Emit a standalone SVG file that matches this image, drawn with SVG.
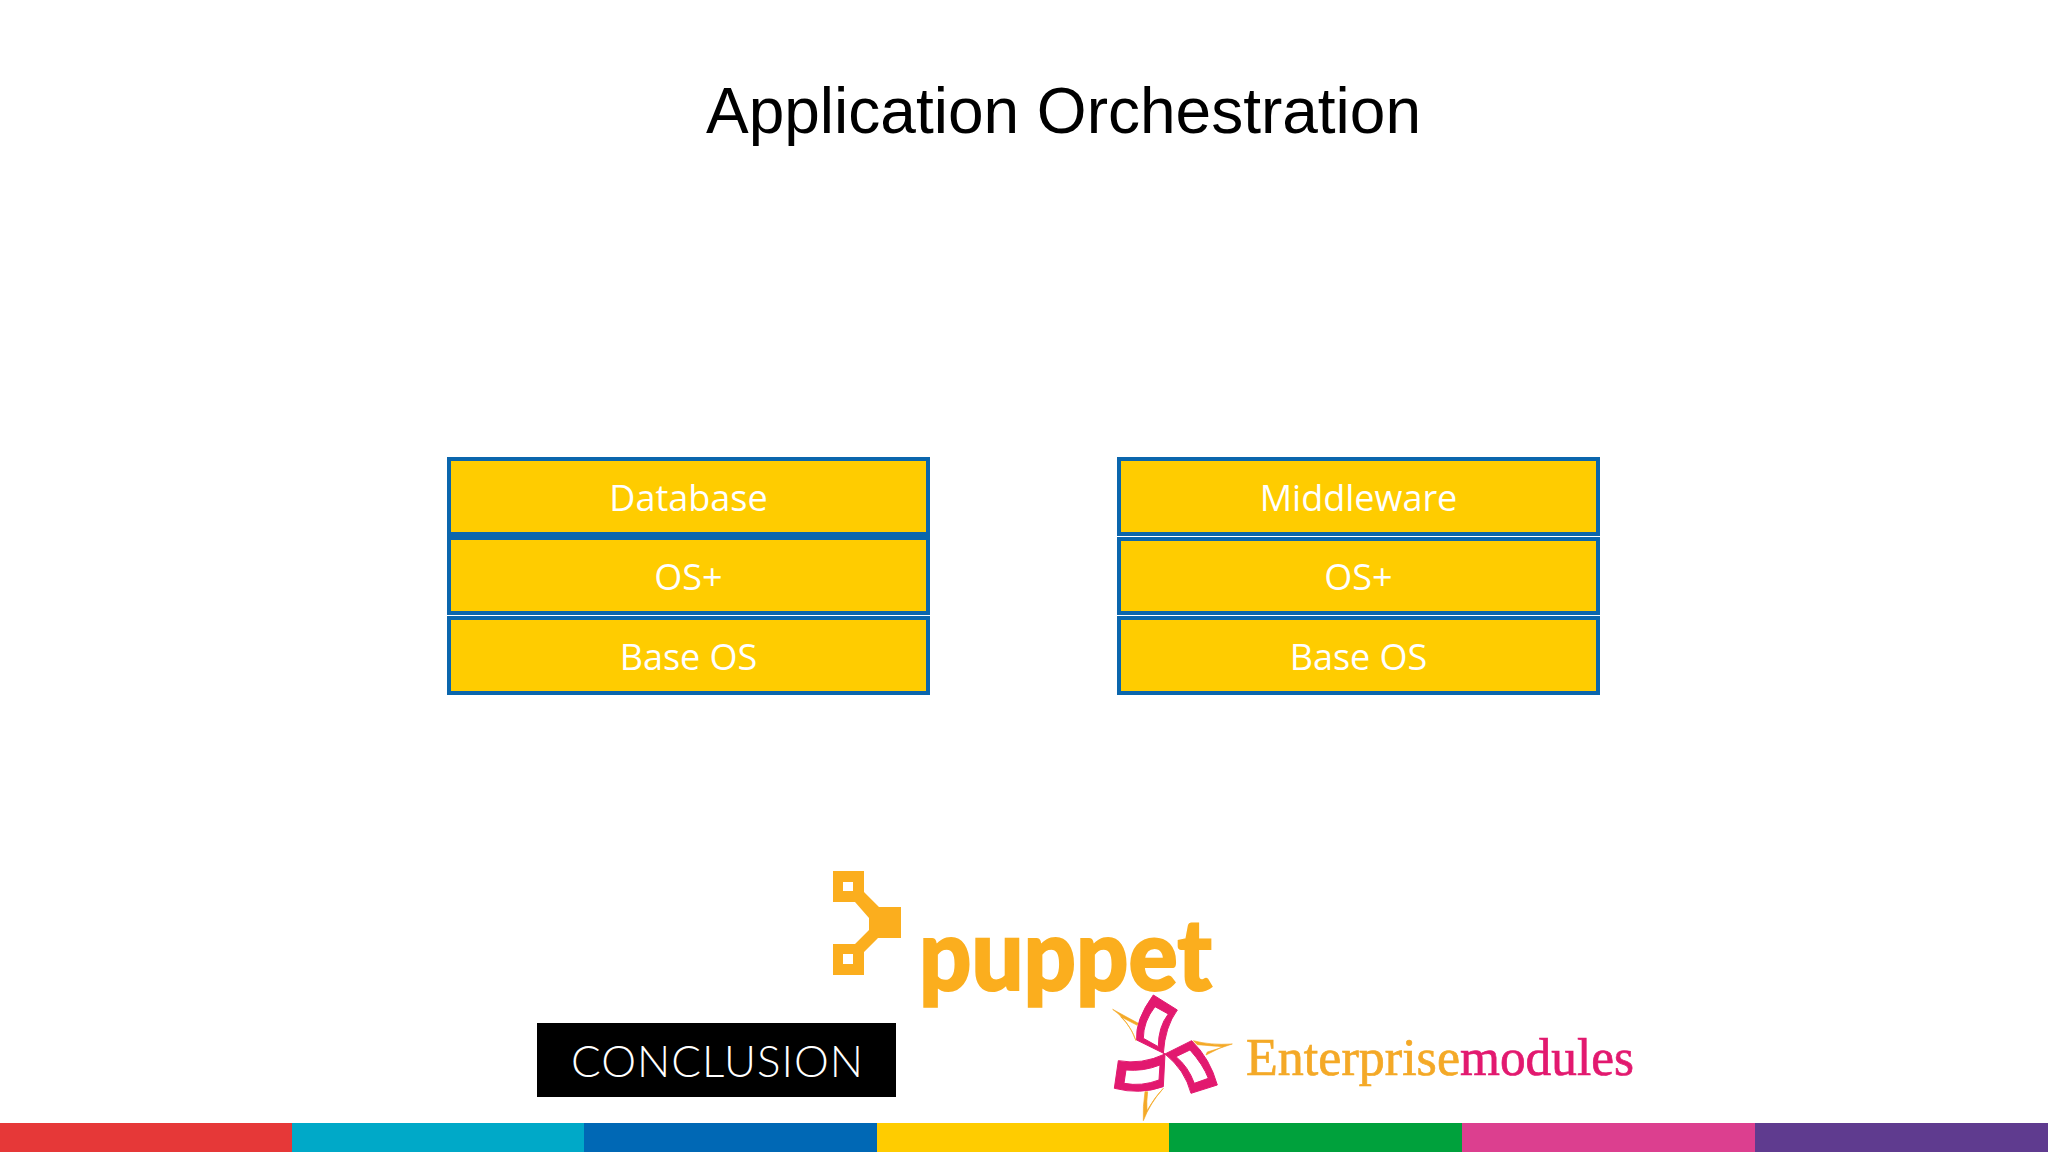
<svg xmlns="http://www.w3.org/2000/svg" width="2048" height="1152" viewBox="0 0 2048 1152">
<style>
.box{fill:#ffcc00;stroke:#0b66ad;stroke-width:4}
.lbl{font-family:"Open Sans","DejaVu Sans",sans-serif;font-size:36px;fill:#fff;text-anchor:middle}
.or{fill:#fbae1e}
.or2{fill:#f4a927;stroke:#f4a927;stroke-width:2}
.pk{fill:#e2196f}
.bl{stroke:#e2196f;stroke-width:3}
.em{font-family:"Liberation Serif",serif;font-size:52px;stroke-width:.7px}
</style>
<rect width="2048" height="1152" fill="#fff"/>
<text x="1063.5" y="133" font-family="'Liberation Sans',Arial,sans-serif" font-size="64" fill="#000" text-anchor="middle">Application Orchestration</text>
<g id="db"><rect class="box" x="449" y="459" width="479" height="75"/><text class="lbl" x="688.5" y="511">Database</text></g>
<g id="os1"><rect class="box" x="449" y="538" width="479" height="75"/><text class="lbl" x="688.5" y="590">OS+</text></g>
<g id="base1"><rect class="box" x="449" y="618" width="479" height="75"/><text class="lbl" x="688.5" y="670">Base OS</text></g>
<g id="mw"><rect class="box" x="1119" y="459" width="479" height="75"/><text class="lbl" x="1358.5" y="511">Middleware</text></g>
<g id="os2"><rect class="box" x="1119" y="539" width="479" height="74"/><text class="lbl" x="1358.5" y="590">OS+</text></g>
<g id="base2"><rect class="box" x="1119" y="618" width="479" height="75"/><text class="lbl" x="1358.5" y="670">Base OS</text></g>
<g id="bars">
<rect x="0" y="1123" width="292" height="29" fill="#e63838"/>
<rect x="292" y="1123" width="292" height="29" fill="#00a9c8"/>
<rect x="584" y="1123" width="293" height="29" fill="#0068b5"/>
<rect x="877" y="1123" width="292" height="29" fill="#ffcc00"/>
<rect x="1169" y="1123" width="293" height="29" fill="#00a13c"/>
<rect x="1462" y="1123" width="293" height="29" fill="#dc3f8f"/>
<rect x="1755" y="1123" width="293" height="29" fill="#5f3b8f"/>
</g>
<g id="puppet">
<path class="or" fill-rule="evenodd" d="M833 871H864V892L879 907H901V938H878L864 952V975H833V944H855L869 930V918L855 902H833ZM843 882V891H853V882ZM843 954V964H853V954Z"/>
<text x="919" y="990" font-family="Lato,'Open Sans',sans-serif" font-weight="900" font-size="100" class="or" stroke="#fbae1e" stroke-width="2" textLength="293" lengthAdjust="spacingAndGlyphs">puppet</text>
</g>
<g id="conclusion"><rect x="537" y="1023" width="359" height="74" fill="#000"/>
<text x="571" y="1077" font-family="Lato,sans-serif" font-weight="300" font-size="44" fill="#fff" textLength="292">CONCLUSION</text></g>
<g id="em">
<g transform="translate(1100 990) scale(.3333)">
<path class="or2" d="M38 58L115 100L112 106L62 80Q95 112 108 152Q85 90 38 58Z"/>
<path class="or2" d="M397 162Q330 166 280 152L292 164Q340 168 368 170L318 195L322 186Q360 175 397 162Z"/>
<path class="or2" d="M130 392Q128 350 135 305L143 305Q139 335 141 362Q165 320 190 295Q150 340 130 392Z"/>
<path class="pk bl" fill-rule="evenodd" d="M160 15L232 60Q195 110 190 190L195 192L110 150Q105 90 160 15ZM165 50Q130 95 130 145L175 170Q175 110 205 72Z"/>
<path class="pk bl" fill-rule="evenodd" d="M195 192L275 152Q330 205 352 285L273 310Q255 240 195 192ZM270 180L228 200Q265 230 283 280L325 265Q310 225 270 180Z"/>
<path class="pk bl" fill-rule="evenodd" d="M55 212Q125 225 195 192L190 290Q120 315 43 295ZM78 240L72 280Q125 290 177 270L180 225Q130 245 78 240Z"/>
</g>
<text class="em" fill="#f4a927" stroke="#f4a927" x="1246" y="1075" textLength="214" lengthAdjust="spacingAndGlyphs">Enterprise</text>
<text class="em" fill="#e2196f" stroke="#e2196f" x="1460" y="1075" textLength="174" lengthAdjust="spacingAndGlyphs">modules</text>
</g>
</svg>
